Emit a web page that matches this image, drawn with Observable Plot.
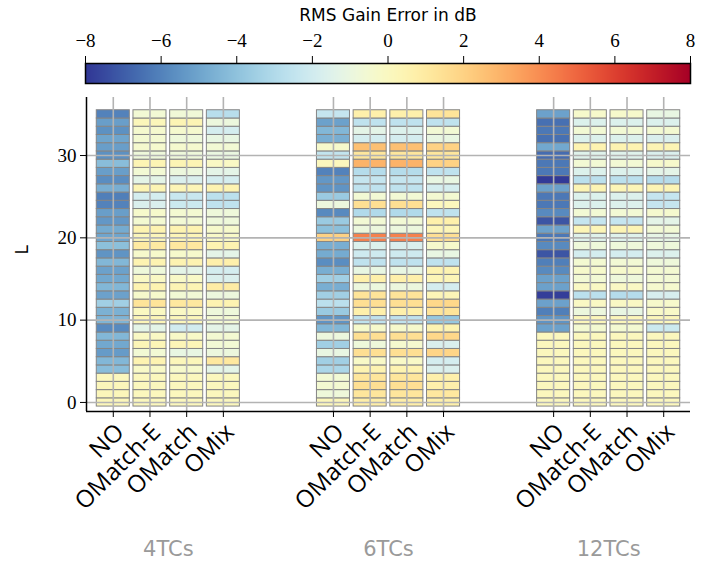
<!DOCTYPE html>
<html><head><meta charset="utf-8">
<script src="https://cdn.jsdelivr.net/npm/d3@7"></script>
<script src="https://cdn.jsdelivr.net/npm/@observablehq/plot@0.6"></script>
<style>
body{margin:0;background:#fff;}
#wrap{position:relative;width:711px;height:567px;background:#fff;}
#cb{position:absolute;left:0;top:0;}
#main{position:absolute;left:0;top:90px;}
</style></head><body><div id="wrap"><div id="cb"></div><div id="main"></div></div>
<script>
// Categories
const groups = ["4TCs", "6TCs", "12TCs"];
const methods = ["NO", "OMatch-E", "OMatch", "OMix"];
const yTicks = [0, 10, 20, 30];
const cbTicks = [-8, -6, -4, -2, 0, 2, 4, 6, 8];
const cbTitle = "RMS Gain Error in dB";
const yTitle = "L";

// RMS gain error (dB), index = L (0..35)
const tc4_NO = [0.2,0.2,0.2,0.1,-4.2,-4.4,-5.3,-4.9,-4.4,-5.8,-4.5,-4.6,-3.5,-5.1,-4.4,-4.9,-5.1,-4.4,-5.5,-4.1,-5.0,-4.8,-5.4,-5.2,-6.0,-6.1,-4.7,-5.7,-5.2,-4.2,-5.6,-5.2,-5.0,-5.6,-5.2,-6.0];
const tc4_OMatchE = [0.1,0.1,0.1,0.1,-0.2,0.5,-0.6,0.3,-0.1,-1.3,0.3,0.0,1.3,-0.3,0.5,-0.1,-0.8,0.5,-0.3,1.0,0.2,0.5,-0.5,-0.3,-1.7,-1.9,0.4,-1.3,-0.6,0.4,-0.8,-0.4,-0.5,-0.4,0.2,-0.6];
const tc4_OMatch = [0.1,0.1,0.1,0.1,-0.3,0.2,-1.1,0.3,-0.2,-2.0,0.2,-0.1,1.1,-0.6,0.4,-0.2,-1.3,0.5,-0.3,1.1,0.3,0.5,-0.6,-0.5,-2.2,-2.3,0.3,-1.7,-0.9,0.4,-0.8,-0.4,-0.8,-0.4,0.4,-0.7];
const tc4_OMix = [0.1,0.1,0.1,0.1,-1.3,1.1,-0.9,-0.6,-0.5,-1.3,-0.5,-0.8,0.5,-0.9,0.9,-1.7,-1.9,0.7,-1.3,0.5,-0.2,-0.3,-0.8,-0.8,-2.6,-2.7,0.5,-1.9,-1.3,-0.1,-1.0,-0.6,-1.1,-1.9,-0.9,-2.8];

const tc6_NO = [0.2,-0.8,-0.5,-0.6,-3.2,-3.5,-1.1,-3.5,-0.9,-4.4,-5.5,-3.7,-2.7,-3.5,-4.7,-3.5,-4.7,-5.7,-4.8,-4.7,2.0,-4.1,-3.7,-5.8,-0.9,-3.7,-5.5,-5.4,-6.0,0.1,-2.5,-0.3,-4.7,-4.4,-5.1,-2.4];
const tc6_OMatchE = [0.8,1.2,1.5,1.2,0.5,-0.2,1.5,-0.8,1.5,-0.3,-2.6,0.7,1.5,1.3,-0.9,0.7,-1.1,-2.6,-2.1,-1.6,4.3,-0.9,-0.6,-3.0,1.5,-0.6,-2.6,-2.4,-2.9,3.0,1.2,2.6,-1.9,-1.3,-2.6,0.7];
const tc6_OMatch = [0.8,1.2,1.5,1.2,0.5,-0.2,1.5,-0.4,1.5,-0.3,-2.6,0.7,1.5,1.3,-0.9,0.7,-1.1,-2.6,-2.1,-1.7,4.3,-0.9,-0.6,-3.0,1.5,-0.6,-2.6,-2.4,-2.9,3.0,1.2,2.6,-1.9,-1.6,-2.6,0.7];
const tc6_OMix = [0.7,1.1,0.7,0.7,-1.7,-1.9,1.9,-1.7,1.8,0.5,-3.8,1.3,1.8,0.3,-1.9,0.3,0.5,-2.6,-1.1,-0.3,1.5,0.3,0.7,-2.6,0.1,-0.5,-1.9,-1.1,-2.6,2.0,1.2,2.0,-1.1,-0.6,-2.6,1.3];

const tc12_NO = [0.1,0.1,0.1,0.1,0.1,0.1,0.1,0.1,0.1,-5.1,-5.5,-6.1,-5.1,-7.8,-5.1,-5.1,-5.8,-6.1,-7.2,-5.8,-6.3,-5.1,-7.2,-5.8,-6.3,-6.3,-5.1,-7.9,-6.3,-6.3,-6.6,-4.9,-6.5,-6.3,-6.5,-5.1];
const tc12_OMatchE = [0.1,0.1,0.1,0.1,0.1,0.1,0.1,0.1,0.1,-0.5,0.2,-0.9,-0.1,-2.7,-0.1,-0.6,-0.3,-0.5,-1.9,-0.8,-1.5,0.3,-2.4,-0.6,-1.6,-1.6,0.4,-2.7,-1.6,-0.6,-1.5,0.5,-1.6,-0.6,-1.6,-0.3];
const tc12_OMatch = [0.1,0.1,0.1,0.1,0.1,0.1,0.1,0.1,0.1,-0.5,0.2,-1.1,-0.1,-2.9,-0.1,-0.8,-0.3,-0.6,-1.9,-0.8,-1.5,0.4,-2.4,-0.6,-1.6,-1.6,0.3,-2.7,-1.6,-0.6,-1.5,0.5,-1.6,-0.6,-1.6,-0.3];
const tc12_OMix = [0.1,0.1,0.1,0.1,0.1,0.1,0.1,0.1,0.1,-2.2,0.2,-0.2,-0.3,-1.8,-0.4,-0.6,-0.5,-0.8,-1.6,-0.8,-1.2,-0.6,-1.3,-0.4,-2.4,-2.4,0.4,-2.9,-1.3,-0.3,-1.7,0.4,-1.7,-0.5,-1.6,-1.1];

const series = [
  [tc4_NO, tc4_OMatchE, tc4_OMatch, tc4_OMix],
  [tc6_NO, tc6_OMatchE, tc6_OMatch, tc6_OMix],
  [tc12_NO, tc12_OMatchE, tc12_OMatch, tc12_OMix]
];

// Build table
const cells = [];
const xTicks = [];
const xLabels = new Map();
series.forEach((grp, g) => grp.forEach((vals, m) => {
  const x = g * 6 + m;
  xTicks.push(x);
  xLabels.set(x, methods[m]);
  vals.forEach((v, L) => cells.push({x, L, v}));
}));
const groupCenters = groups.map((_, g) => g * 6 + 1.5);

const colorScale = {type: "linear", domain: [-8, 8], scheme: "RdYlBu", reverse: true};
const sans = "'DejaVu Sans', sans-serif";
const serif = "'Liberation Serif', 'DejaVu Serif', serif";
const minus = d => d < 0 ? "\u2212" + Math.abs(d) : String(d);

// Colorbar
const cb = Plot.plot({
  width: 711, height: 85,
  marginTop: 63, marginBottom: 2, marginLeft: 85, marginRight: 21,
  x: {domain: [-8, 8]},
  y: {domain: [0, 1], axis: null},
  color: colorScale,
  style: {fontFamily: sans, fontSize: "16px", background: "white", overflow: "visible"},
  marks: [
    Plot.raster({x1: -8, x2: 8, y1: 0, y2: 1, width: 605, height: 1, fill: (x, y) => x, imageRendering: "auto"}),
    Plot.frame({stroke: "black", strokeWidth: 1.5}),
    Plot.axisX(cbTicks, {anchor: "top", tickSize: 8, tickPadding: 9, tickFormat: minus,
      fontFamily: serif, fontSize: 19, stroke: "black", label: null}),
    Plot.text([cbTitle], {frameAnchor: "top", dy: -55, fontFamily: sans, fontSize: 17, fill: "black"})
  ]
});
document.getElementById("cb").appendChild(cb);

// Main heatmap
const xmin = -0.73, xmax = 15.73, ymin = -1.1, ymax = 37.05;
const main = Plot.plot({
  width: 711, height: 477,
  marginTop: 7, marginBottom: 156, marginLeft: 86, marginRight: 21,
  x: {domain: [xmin, xmax]},
  y: {domain: [ymin, ymax]},
  color: colorScale,
  style: {fontFamily: sans, fontSize: "15px", background: "white", overflow: "visible"},
  marks: [
    Plot.rect(cells, {x1: d => d.x - 0.45, x2: d => d.x + 0.45, y1: d => d.L - 0.5, y2: d => d.L + 0.5,
      fill: "v", stroke: "#858585", strokeWidth: 1}),
    Plot.gridX(xTicks, {stroke: "#b3b3b3", strokeOpacity: 1, strokeWidth: 1.6}),
    Plot.gridY(yTicks, {stroke: "#b3b3b3", strokeOpacity: 1, strokeWidth: 1.6}),
    Plot.axisY(yTicks, {tickSize: 6, tickPadding: 4, fontFamily: serif, fontSize: 19, stroke: "black", label: null}),
    Plot.text([yTitle], {frameAnchor: "left", dx: -64, rotate: -90, fontFamily: sans, fontSize: 17, fill: "black"}),
    Plot.axisX(xTicks, {tickSize: 6, tickPadding: 4, tickRotate: -45, textAnchor: "end", lineAnchor: "top",
      tickFormat: d => xLabels.get(d), fontFamily: "'Open Sans', sans-serif", fontSize: 24, stroke: "black", label: null}),
    Plot.axisX(groupCenters, {tickSize: 0, tickPadding: 130, tickFormat: (d, i) => groups[i],
      fontFamily: sans, fontSize: 21, fill: "#9a9a9a", label: null}),
    Plot.ruleX([xmin], {stroke: "black", strokeWidth: 1.5}),
    Plot.ruleY([ymin], {stroke: "black", strokeWidth: 1.5})
  ]
});
document.getElementById("main").appendChild(main);
</script>
</body></html>
